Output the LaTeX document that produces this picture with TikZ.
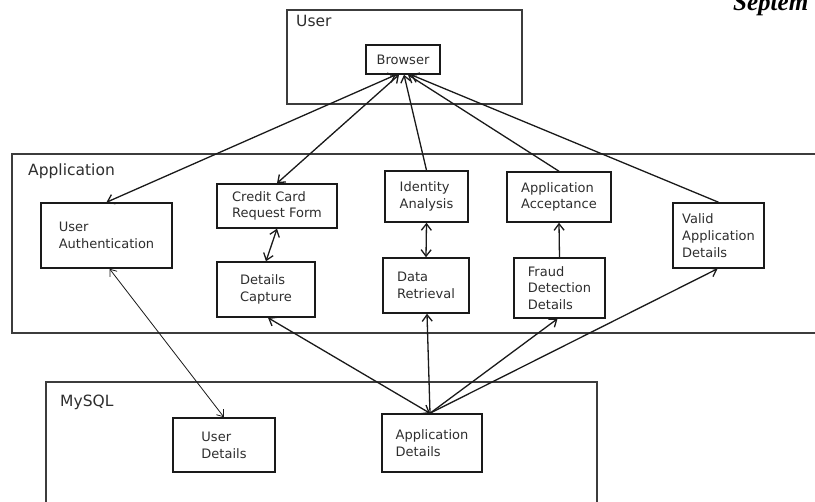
\documentclass[tikz,border=0pt]{standalone}
\usepackage{fontspec}
\setmainfont{DejaVu Sans}
\newfontfamily\hdrfont{Liberation Serif}
\usetikzlibrary{arrows.meta}
\definecolor{ink}{HTML}{1A1A1A}
\definecolor{txt}{HTML}{2E2E2E}
\tikzset{
  box/.style={draw=ink, line width=1.5pt, rectangle, inner sep=0pt, align=left,
    text=txt, font=\fontsize{13}{16.8}\selectfont},
  grp/.style={draw=ink!85, line width=1.6pt, rectangle, inner sep=0pt},
  grplabel/.style={anchor=base west, text=txt, inner sep=0pt, font=\fontsize{15.5}{18}\selectfont},
  conn/.style={draw=ink, line width=1.3pt, -{Straight Barb[length=6.5pt,width=10pt,line width=1.3pt]}},
  dconn/.style={draw=ink, line width=1.3pt, {Straight Barb[length=6.5pt,width=10pt,line width=1.3pt]}-{Straight Barb[length=6.5pt,width=10pt,line width=1.3pt]}},
  thinconn/.style={draw=ink, line width=0.8pt, {Straight Barb[length=6pt,width=9pt,line width=0.8pt]}-{Straight Barb[length=6pt,width=9pt,line width=0.8pt]}}
}
\begin{document}
\begin{tikzpicture}[x=1pt,y=-1pt]
\clip (0,0) rectangle (815,502);
\fill[white] (0,0) rectangle (815,502);

% header fragment
\node[anchor=base west, inner sep=0pt, font=\hdrfont\fontsize{25}{27}\selectfont\bfseries\itshape] (hdr) at (733,11) {Septem};

% groups
\node[grp, minimum width=235pt, minimum height=94pt] (usergrp) at (404.5,57) {};
\node[grp, minimum width=830pt, minimum height=179pt] (appgrp) at (427,243.5) {};
\node[grp, minimum width=551pt, minimum height=150pt] (sqlgrp) at (321.5,457) {};
\node[grplabel] (userlbl) at (296,27) {User};
\node[grplabel] (applbl) at (28,176) {Application};
\node[grplabel] (sqllbl) at (60,407) {MySQL};

% boxes
\node[box, minimum width=74pt, minimum height=29pt] (browser) at (403,59.5) {Browser};
\node[box, minimum width=131pt, minimum height=65pt] (userauth) at (106.5,235.5) {User\\Authentication};
\node[box, minimum width=120pt, minimum height=44pt] (ccform) at (277,206) {Credit Card\\Request Form};
\node[box, minimum width=98pt, minimum height=55pt] (capture) at (266,289.5) {Details\\Capture};
\node[box, minimum width=83pt, minimum height=51pt] (identity) at (426.5,196.5) {Identity\\Analysis};
\node[box, minimum width=86pt, minimum height=55pt] (retrieval) at (426,285.5) {Data\\Retrieval};
\node[box, minimum width=104pt, minimum height=50pt] (accept) at (559,197) {Application\\Acceptance};
\node[box, minimum width=91pt, minimum height=60pt] (fraud) at (559.5,288) {Fraud\\Detection\\Details};
\node[box, minimum width=91pt, minimum height=65pt] (valid) at (718.5,235.5) {Valid\\Application\\Details};
\node[box, minimum width=102pt, minimum height=54pt] (userdet) at (224,445) {User\\Details};
\node[box, minimum width=100pt, minimum height=58pt] (appdet) at (432,443) {Application\\Details};

% connectors to browser
\draw[dconn] (userauth.north) -- ([xshift=-7pt]browser.south);
\draw[dconn] (ccform.north) -- ([xshift=-4pt]browser.south);
\draw[conn] (identity.north) -- ([xshift=1pt]browser.south);
\draw[conn] (accept.north) -- ([xshift=5pt]browser.south);
\draw[conn] (valid.north) -- ([xshift=8pt]browser.south);

% inside application
\draw[dconn] (ccform.south) -- (capture.north);
\draw[dconn] (identity.south) -- (retrieval.north);
\draw[conn] (fraud.north) -- (accept.south);

% to MySQL
\draw[thinconn] ([xshift=3pt]userauth.south) -- (userdet.north);
\draw[dconn] ([xshift=-2pt]appdet.north) -- ([xshift=2pt]capture.south);
\draw[conn] ([xshift=-2pt]appdet.north) -- ([xshift=1pt]retrieval.south);
\draw[conn] ([xshift=-2pt]appdet.north) -- ([xshift=-2pt]fraud.south);
\draw[conn] ([xshift=-2pt]appdet.north) -- ([xshift=-1pt]valid.south);
\end{tikzpicture}
\end{document}
